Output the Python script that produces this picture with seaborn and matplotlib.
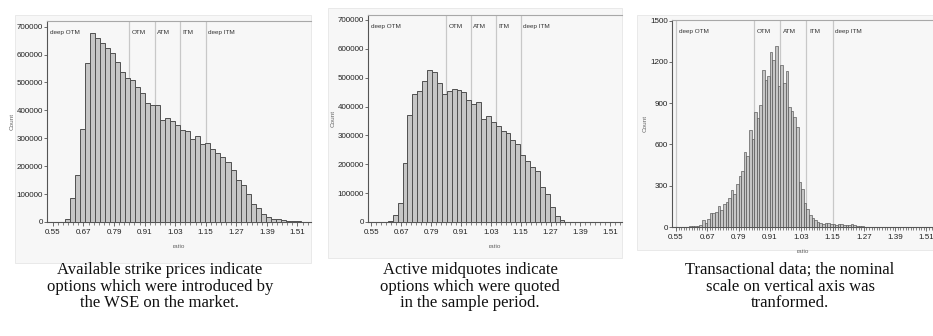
import numpy as np
import pandas as pd
import matplotlib
matplotlib.use("Agg")
import matplotlib.pyplot as plt
import matplotlib.patches as mpatches
import matplotlib.transforms as mtrans
from matplotlib.ticker import FixedLocator, FuncFormatter
import seaborn as sns

# ---------------- data ----------------
# Panel 1: available strike prices (bins of ratio)
strike_bin_start = 0.597
strike_bin_width = 0.0197
strike_counts = [10000, 86000, 167000, 333000, 570000, 676000, 661000, 640000, 622000, 604000,
                 572000, 538000, 517000, 508000, 484000, 464000, 428000, 419000, 421000, 365000,
                 374000, 361000, 347000, 329000, 327000, 299000, 307000, 278000, 283000, 260000,
                 249000, 233000, 215000, 185000, 152000, 134000, 99000, 63000, 51000, 30000,
                 18000, 12000, 10000, 8000, 4000, 4000, 2000]

# Panel 2: active midquotes
mid_bin_start = 0.6167
mid_bin_width = 0.0197
mid_counts = [3000, 25000, 66000, 204000, 372000, 445000, 454000, 490000, 527000, 521000,
              480000, 445000, 455000, 462000, 456000, 452000, 422000, 408000, 414000, 356000,
              366000, 348000, 334000, 315000, 309000, 285000, 271000, 231000, 212000, 189000,
              177000, 122000, 96000, 52000, 21000, 6000]

# Panel 3: transactional data
trans_bin_start = 0.60
trans_bin_width = 0.01
trans_counts = [5, 10, 5, 10, 15, 50, 30, 57, 99, 99, 111, 155, 126, 165, 182, 212, 271, 238,
                316, 369, 405, 546, 515, 704, 643,
                837, 789, 890, 1145, 1072, 1098, 1270, 1211, 1314,
                1024, 1175, 1045, 1135, 870, 840, 800, 725,
                329, 273, 172, 130, 89, 64, 49, 37, 27, 20, 30, 30, 20, 25, 17, 20, 25,
                12, 12, 15, 20, 18, 10, 6, 4, 3, 2, 3, 1, 2]

x_ticks = [0.55, 0.67, 0.79, 0.91, 1.03, 1.15, 1.27, 1.39, 1.51]
region_bounds = [0.85, 0.95, 1.05, 1.15]
region_labels = ["deep OTM", "OTM", "ATM", "ITM", "deep ITM"]

captions = [
    "Available strike prices indicate\noptions which were introduced by\nthe WSE on the market.",
    "Active midquotes indicate\noptions which were quoted\nin the sample period.",
    "Transactional data; the nominal\nscale on vertical axis was\ntranformed.",
]

# ---------------- style ----------------
sns.set_style("ticks")
plt.rcParams["font.family"] = ["Liberation Sans Narrow", "Liberation Sans", "DejaVu Sans"]

W, H = 933, 336
fig = plt.figure(figsize=(W / 100, H / 100), dpi=100)
fig.patch.set_facecolor("white")

def fx(px):
    return px / W

def fy(py):
    return 1 - py / H

# light grey panel backgrounds (screenshot boxes)
for (x0, y0, x1, y1) in [(15, 15, 311, 263), (328, 8, 622, 258), (637, 15, 933, 250)]:
    rect = mpatches.Rectangle((fx(x0), fy(y1)), fx(x1 - x0), (y1 - y0) / H,
                              transform=fig.transFigure, facecolor="#f7f7f7",
                              edgecolor="#e6e6e6", linewidth=0.6, zorder=-10)
    fig.patches.append(rect)

panels = [
    dict(box=(47, 21, 311, 222), counts=strike_counts, start=strike_bin_start, width=strike_bin_width,
         xlim=(0.527, 1.563), ylim=(0, 720400), ystep=100000, ymax=700000, minor=0.02,
         deep_otm_line=False, lw=0.7),
    dict(box=(368, 15, 622, 222), counts=mid_counts, start=mid_bin_start, width=mid_bin_width,
         xlim=(0.537, 1.557), ylim=(0, 717000), ystep=100000, ymax=700000, minor=0.02,
         deep_otm_line=False, lw=0.7),
    dict(box=(672, 20, 933, 227), counts=trans_counts, start=trans_bin_start, width=trans_bin_width,
         xlim=(0.535, 1.535), ylim=(0, 1505), ystep=300, ymax=1500, minor=0.01,
         deep_otm_line=True, lw=0.45),
]

for p in panels:
    l, t, r, b = p["box"]
    ax = fig.add_axes([fx(l), fy(b), fx(r - l), (b - t) / H])
    ax.set_zorder(5)
    ax.set_facecolor("none")
    ax.patch.set_alpha(0)
    n = len(p["counts"])
    edges = [float(v) for v in p["start"] + p["width"] * np.arange(n + 1)]
    centers = [(edges[i] + edges[i + 1]) / 2 for i in range(n)]
    df = pd.DataFrame({"ratio": centers, "count": p["counts"]})
    sns.histplot(data=df, x="ratio", weights="count", bins=edges, ax=ax,
                 color="#c6c6c6", edgecolor="#505050", linewidth=p["lw"], alpha=1, zorder=3)
    ax.set_xlim(*p["xlim"])
    ax.set_ylim(*p["ylim"])

    lines = ([0.55] if p["deep_otm_line"] else []) + region_bounds
    for xv in lines:
        ax.axvline(xv, color="#c8c8c8", linewidth=0.9, zorder=2)
    trans = mtrans.blended_transform_factory(ax.transData, ax.transAxes)
    label_x = [p["xlim"][0] + 0.012 if not p["deep_otm_line"] else 0.56] + [v + 0.01 for v in region_bounds]
    for xv, lab in zip(label_x, region_labels):
        ax.text(xv, 0.945, lab, transform=trans, fontsize=4.6, color="#333333",
                ha="left", va="center", zorder=5)

    ax.xaxis.set_major_locator(FixedLocator(x_ticks))
    ax.xaxis.set_major_formatter(FuncFormatter(lambda v, pos: f"{v:.2f}"))
    minor_vals = np.round(np.arange(0.55, p["xlim"][1], p["minor"]), 3)
    ax.xaxis.set_minor_locator(FixedLocator(minor_vals))
    ax.yaxis.set_major_locator(FixedLocator(np.arange(0, p["ymax"] + 1, p["ystep"])))
    ax.yaxis.set_major_formatter(FuncFormatter(lambda v, pos: f"{int(round(v))}"))

    ax.tick_params(axis="x", which="major", labelsize=5.8, length=3, width=0.6,
                   color="#555555", labelcolor="#222222", pad=2)
    ax.tick_params(axis="y", which="major", labelsize=5.8, length=2, width=0.6,
                   color="#555555", labelcolor="#222222", pad=1)
    ax.tick_params(axis="x", which="minor", length=1.8, width=0.5, color="#555555")

    ax.spines["right"].set_visible(False)
    ax.spines["top"].set_color("#a8a8a8")
    ax.spines["top"].set_linewidth(0.8)
    for s in ("left", "bottom"):
        ax.spines[s].set_color("#555555")
        ax.spines[s].set_linewidth(0.8)

    ax.set_xlabel("ratio", fontsize=4.6, color="#666666", labelpad=6)
    ax.set_ylabel("Count", fontsize=4.6, color="#666666", labelpad=1.5)

cap_x = [160, 470, 790]
for cx, cap in zip(cap_x, captions):
    fig.text(fx(cx), fy(262), cap, ha="center", va="top", fontsize=12,
             family=["Liberation Serif", "DejaVu Serif"], linespacing=1.06, color="#111111")

fig.savefig("out.png", dpi=100, facecolor="white")
